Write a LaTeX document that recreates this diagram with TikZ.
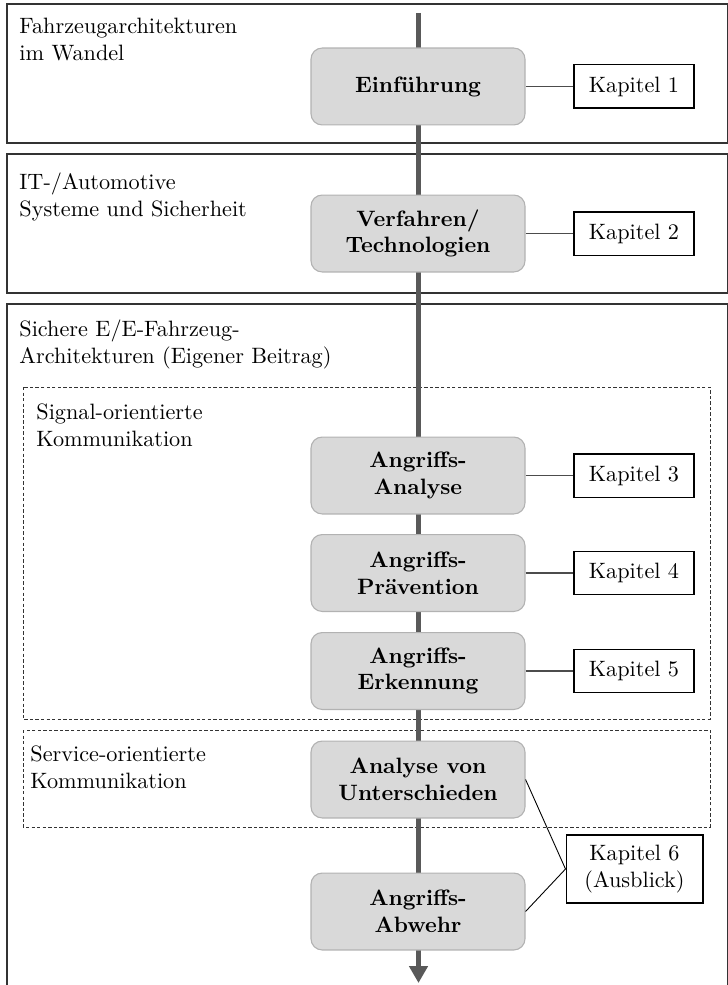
\documentclass[tikz,border=0pt]{standalone}
\usetikzlibrary{arrows.meta}
\begin{document}
\begin{tikzpicture}[x=0.45pt,y=-0.45pt,
  frame/.style={draw=black!80, line width=0.6pt},
  group/.style={draw=black!80, line width=0.45pt, dash pattern=on 1.5pt off 1pt},
  stage/.style={draw=black!30, fill=black!15, rounded corners=5pt,
    minimum width=96.3pt, minimum height=34.6pt, align=center,
    font=\bfseries, inner sep=2pt, line width=0.5pt},
  chapter/.style={draw=black, fill=white, minimum width=54pt,
    minimum height=19.4pt, align=center, inner sep=2pt, line width=0.5pt},
  heading/.style={anchor=north west, align=left, inner sep=0pt},
  link/.style={draw=black!70, line width=0.6pt},
  thinlink/.style={draw=black, line width=0.4pt},
  flow/.style={draw=black!65, line width=2.4pt,
    -{Triangle[width=8.1pt,length=7.6pt]}}
]
\useasboundingbox (0,0) rectangle (727,985);

% chapter frames
\draw[frame] (7,4) rectangle (728,143);
\draw[frame] (7,154) rectangle (728,293);
\draw[frame] (7,304) rectangle (728,1000);

% sub-groups of the own contribution
\draw[group] (23,387) rectangle (710,719);
\draw[group] (23,730) rectangle (710,827);

% frame headings
\node[heading] (h1) at (19,17.6) {Fahrzeugarchitekturen\\im Wandel};
\node[heading] (h2) at (19,172.3) {IT-/Automotive\\Systeme und Sicherheit};
\node[heading] (h3) at (19,319.3) {Sichere E/E-Fahrzeug-\\Architekturen (Eigener Beitrag)};
\node[heading] (h4) at (36,403.6) {Signal-orientierte\\Kommunikation};
\node[heading] (h5) at (30,745.3) {Service-orientierte\\Kommunikation};

% main flow
\coordinate (top) at (418.5,13);
\coordinate (bottom) at (418.5,983);
\draw[flow] (top) -- (bottom);

% stages
\node[stage] (s1) at (418,86.5) {Einführung};
\node[stage] (s2) at (418,233.5) {Verfahren/\\Technologien};
\node[stage] (s3) at (418,475.5) {Angriffs-\\Analyse};
\node[stage] (s4) at (418,573) {Angriffs-\\Prävention};
\node[stage] (s5) at (418,671) {Angriffs-\\Erkennung};
\node[stage] (s6) at (418,779.5) {Analyse von\\Unterschieden};
\node[stage] (s7) at (418,911.5) {Angriffs-\\Abwehr};

% chapters
\node[chapter] (k1) at (634,86.5) {Kapitel 1};
\node[chapter] (k2) at (634,233.5) {Kapitel 2};
\node[chapter] (k3) at (634,475.5) {Kapitel 3};
\node[chapter] (k4) at (634,573) {Kapitel 4};
\node[chapter] (k5) at (634,671) {Kapitel 5};
\node[chapter, minimum width=61.6pt, minimum height=30.6pt] (k6) at (634.5,869) {Kapitel 6\\(Ausblick)};

% stage-to-chapter links
\draw[link] (s1.east) -- (k1.west);
\draw[link] (s2.east) -- (k2.west);
\draw[link] (s3.east) -- (k3.west);
\draw[link] (s4.east) -- (k4.west);
\draw[link] (s5.east) -- (k5.west);
\draw[thinlink] (s6.east) -- (k6.west);
\draw[thinlink] (s7.east) -- (k6.west);
\end{tikzpicture}
\end{document}
